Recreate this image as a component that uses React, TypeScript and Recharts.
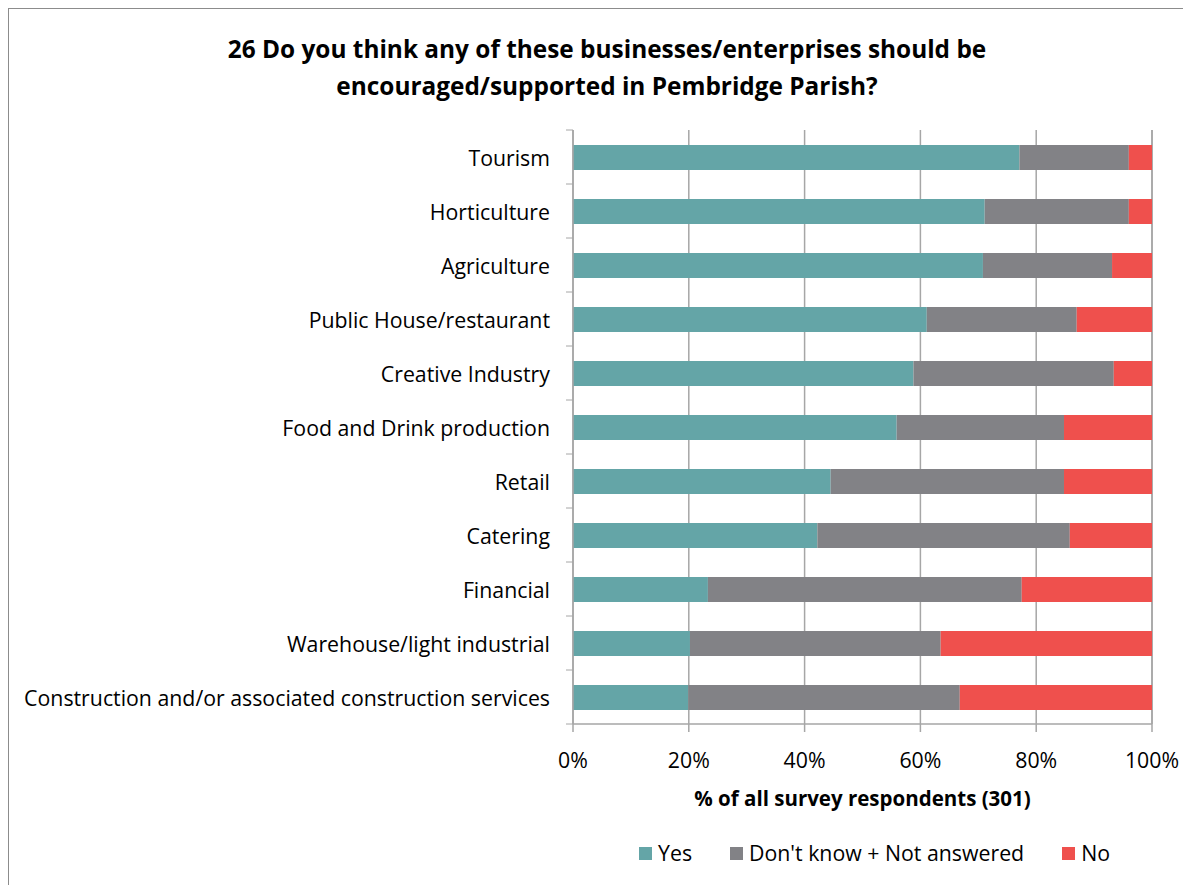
import React from "react";
import { BarChart, Bar, XAxis, YAxis, CartesianGrid } from "recharts";

const categories = [
  "Tourism",
  "Horticulture",
  "Agriculture",
  "Public House/restaurant",
  "Creative Industry",
  "Food and Drink production",
  "Retail",
  "Catering",
  "Financial",
  "Warehouse/light industrial",
  "Construction and/or associated construction services",
];
const yesValues = [77.1, 71.1, 70.8, 61.1, 58.8, 55.9, 44.5, 42.2, 23.3, 20.2, 19.9];
const dkValues = [18.9, 24.9, 22.3, 25.9, 34.6, 28.9, 40.3, 43.6, 54.2, 43.3, 46.9];
const noValues = [4.0, 4.0, 6.9, 13.0, 6.6, 15.2, 15.2, 14.2, 22.5, 36.5, 33.2];
const xTicks = [0, 20, 40, 60, 80, 100];

const seriesNames = ["Yes", "Don't know + Not answered", "No"];
const seriesKeys = ["yes", "dk", "no"];
const seriesColors = ["#64A5A7", "#828286", "#EF504D"];

const titleLines = [
  "26 Do you think any of these businesses/enterprises should be",
  "encouraged/supported in Pembridge Parish?",
];
const xAxisTitle = "% of all survey respondents (301)";

const data = categories.map((name, i) => ({
  name,
  yes: yesValues[i],
  dk: dkValues[i],
  no: noValues[i],
}));

const FONT = "'Open Sans', Lato, sans-serif";
const CHART_W = 1183;
const CHART_H = 860;
const MARGIN = { top: 121, right: 40, bottom: 105, left: 0 };
const Y_W = 564;
const X_H = 40;
const PLOT_H = CHART_H - MARGIN.top - MARGIN.bottom - X_H;
const BAND = PLOT_H / categories.length;
const GRID = "#a6a6a6";

const CatTick = (props: any) => {
  const { x, y, payload, index } = props;
  const half = BAND / 2;
  return (
    <g>
      <text
        x={x - 23}
        y={y}
        textAnchor="end"
        dominantBaseline="central"
        fontSize={21.3}
        fontFamily={FONT}
        fill="#000"
      >
        {payload.value}
      </text>
      <line x1={x - 7} x2={x} y1={y - half} y2={y - half} stroke={GRID} strokeWidth={1} />
      {index === categories.length - 1 && (
        <line x1={x - 7} x2={x} y1={y + half} y2={y + half} stroke={GRID} strokeWidth={1} />
      )}
    </g>
  );
};

export default function App() {
  return (
    <div
      style={{
        position: "relative",
        width: 1200,
        height: 890,
        border: "1px solid #8c8c8c",
        background: "#fff",
        fontFamily: FONT,
      }}
    >
      <div
        style={{
          position: "absolute",
          left: 0,
          top: 21,
          width: 1196,
          textAlign: "center",
          fontSize: 24.4,
          fontWeight: 700,
          lineHeight: "37px",
          color: "#000",
        }}
      >
        {titleLines.map((t) => (
          <div key={t}>{t}</div>
        ))}
      </div>
      <BarChart
        width={CHART_W}
        height={CHART_H}
        data={data}
        layout="vertical"
        margin={MARGIN}
        barSize={25}
      >
        <CartesianGrid horizontal={false} stroke={GRID} strokeWidth={1.5} />
        <XAxis
          type="number"
          domain={[0, 100]}
          ticks={xTicks}
          height={X_H}
          tickFormatter={(v: number) => `${v}%`}
          axisLine={{ stroke: GRID, strokeWidth: 1.5 }}
          tickLine={{ stroke: GRID, strokeWidth: 1.5 }}
          tickSize={8}
          tickMargin={21}
          tick={{ fontSize: 21.3, fontFamily: FONT, fill: "#000" }}
          interval={0}
        />
        <YAxis
          type="category"
          dataKey="name"
          width={Y_W}
          axisLine={{ stroke: GRID, strokeWidth: 1.5 }}
          tickLine={false}
          tickSize={0}
          tickMargin={0}
          tick={<CatTick />}
          interval={0}
        />
        {seriesKeys.map((k, i) => (
          <Bar
            key={k}
            dataKey={k}
            name={seriesNames[i]}
            stackId="a"
            fill={seriesColors[i]}
            isAnimationActive={false}
          />
        ))}
      </BarChart>
      <div
        style={{
          position: "absolute",
          left: MARGIN.left + Y_W,
          width: CHART_W - MARGIN.right - Y_W,
          top: 775,
          textAlign: "center",
          fontSize: 20.5,
          fontWeight: 700,
          color: "#000",
          lineHeight: "28px",
        }}
      >
        {xAxisTitle}
      </div>
      <div
        style={{
          position: "absolute",
          left: 0,
          width: 1183,
          top: 829,
          display: "flex",
          justifyContent: "center",
          paddingLeft: 548,
          boxSizing: "border-box",
          fontSize: 21.3,
          color: "#000",
          lineHeight: "30px",
        }}
      >
        {seriesNames.map((n, i) => (
          <div
            key={n}
            style={{ display: "flex", alignItems: "center", marginRight: i < 2 ? 38 : 0 }}
          >
            <span
              style={{
                display: "inline-block",
                width: 13,
                height: 13,
                background: seriesColors[i],
                marginRight: 6,
              }}
            />
            <span>{n}</span>
          </div>
        ))}
      </div>
    </div>
  );
}
